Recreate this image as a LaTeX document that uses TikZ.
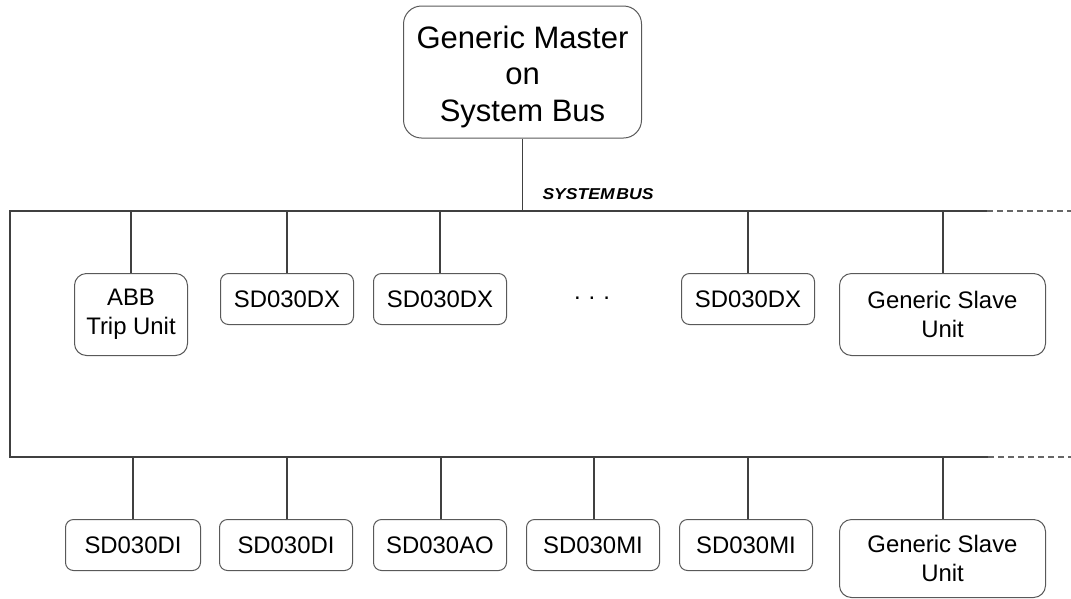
\documentclass[tikz,border=0pt]{standalone}
\usepackage{fontspec}
\setmainfont{Liberation Sans}
\begin{document}
\begin{tikzpicture}[x=1pt,y=-1pt,
  busline/.style={draw=black!75, line width=1.1pt},
  busdash/.style={draw=black!60, line width=1.1pt, dash pattern=on 6pt off 4pt},
  unit/.style={draw=black!65, line width=1pt, rounded corners=8pt, align=center,
    inner sep=0pt, anchor=north, font=\fontsize{23.9}{29}\selectfont},
  small/.style={unit, minimum width=133pt, minimum height=51pt},
  tall/.style={unit, rounded corners=12pt, minimum height=82pt},
  master/.style={draw=black!65, line width=1pt, rounded corners=18pt, align=center,
    inner sep=0pt, minimum width=238pt, minimum height=132pt,
    font=\fontsize{31}{36.5}\selectfont}]
\useasboundingbox (0,0) rectangle (1071,598);

% master
\node[master] (m) at (522.5,72) {\rule{0pt}{32pt}Generic Master\\on\\System Bus};

% bus coordinates
\coordinate (tl) at (10,211);
\coordinate (tr) at (987,211);
\coordinate (te) at (1071,211);
\coordinate (bl) at (10,457);
\coordinate (br) at (988,457);
\coordinate (be) at (1071,457);

\draw[busline] (tr) -- (tl) -- (bl) -- (br);
\draw[busdash] (tr) -- (te);
\draw[busdash] (br) -- (be);
\draw[busline] (m.south) -- (m.south |- tl);

\node[font=\bfseries\itshape] (lbl) at (598,194.5) {\resizebox{111pt}{11pt}{SYSTEM\hspace{0.1em}BUS}};

% top row
\node[tall, minimum width=113pt] (abb) at (131,273) {ABB\\Trip Unit};
\node[small] (dx1) at (287,273) {SD030DX};
\node[small] (dx2) at (440,273) {SD030DX};
\node[font=\fontsize{23.9}{29}\selectfont, anchor=base] (dots) at (592,299) {.\hspace{8pt}.\hspace{8pt}.};
\node[small] (dx3) at (748,273) {SD030DX};
\node[tall, minimum width=206pt] (gs1) at (942.5,273) {Generic Slave\\Unit};

\foreach \n in {abb,dx1,dx2,dx3} \draw[busline] (\n.north) -- (\n.north |- tl);
\draw[busline] (943,273) -- (943,211);

% bottom row
\node[small, minimum width=135pt] (di1) at (133,519) {SD030DI};
\node[small] (di2) at (286,519) {SD030DI};
\node[small] (ao) at (440,519) {SD030AO};
\node[small] (mi1) at (593,519) {SD030MI};
\node[small] (mi2) at (746,519) {SD030MI};
\node[unit, rounded corners=12pt, minimum width=206pt, minimum height=78pt] (gs2) at (942.5,519) {Generic Slave\\Unit};

\draw[busline] (133,519) -- (133,457);
\draw[busline] (287,519) -- (287,457);
\draw[busline] (441,519) -- (441,457);
\draw[busline] (594,519) -- (594,457);
\draw[busline] (748,519) -- (748,457);
\draw[busline] (943,519) -- (943,457);
\end{tikzpicture}
\end{document}
